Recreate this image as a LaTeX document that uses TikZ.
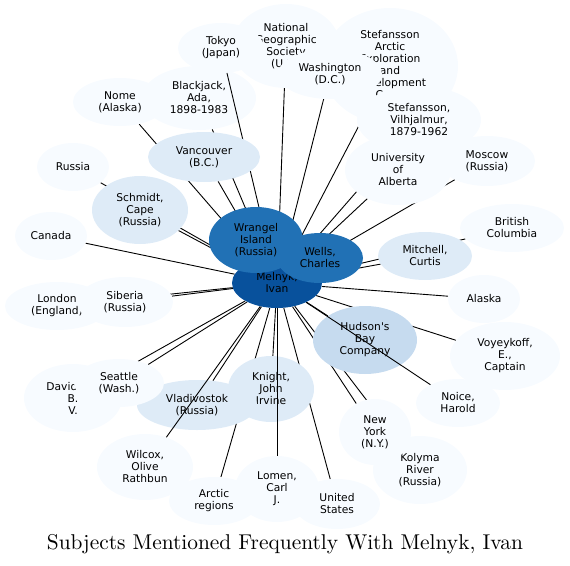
\documentclass[tikz,border=0pt]{standalone}
\usepackage{fontspec}
\newfontfamily\nodefont{DejaVu Sans}
\newfontfamily\titlefont{lmroman10-regular.otf}
\usetikzlibrary{shapes.geometric}
\definecolor{bA}{HTML}{F7FBFF}
\definecolor{bB}{HTML}{DEEBF7}
\definecolor{bC}{HTML}{C6DBEF}
\definecolor{bG}{HTML}{2171B5}
\definecolor{bH}{HTML}{08519C}
\pgfdeclarelayer{edgelayer}
\pgfdeclarelayer{topedge}
\pgfdeclarelayer{upper}
\pgfsetlayers{edgelayer,main,topedge,upper}
\begin{document}
\begin{tikzpicture}[x=1pt,y=-1pt,
  nd/.style={ellipse,inner sep=0pt,align=center,text=black,
    font=\nodefont\fontsize{10.7}{12}\selectfont},
  lv1/.style={nd,fill=bA},
  lv2/.style={nd,fill=bB},
  lv3/.style={nd,fill=bC},
  lv7/.style={nd,fill=bG},
  lv8/.style={nd,fill=bH},
  sz/.style 2 args={minimum width=#1pt,minimum height=#2pt},
  link/.style={draw=black,line width=0.9pt}]
\useasboundingbox (0,0) rectangle (570,565);

% light nodes (main layer), later ones on top
\node[lv1,sz={108}{84}] (natgeo) at (286,46) {National\\Geographic\\Society\\(U.S.)};
\node[lv1,sz={86}{50}] (tokyo) at (221,48) {Tokyo\\(Japan)};
\node[lv1,sz={136}{116}] (stefarctic) at (390,66) {Stefansson\\Arctic\\Exploration\\and\\Development\\Corp.};
\node[lv1,sz={104}{50}] (washington) at (330,74) {Washington\\(D.C.)};
\node[lv1,sz={124}{68}] (vilhjalmur) at (419,120) {Stefansson,\\Vilhjalmur,\\1879-1962};
\node[lv1,sz={106}{70}] (alberta) at (398,170) {University\\of\\Alberta};
\node[lv1,sz={96}{50}] (moscow) at (487,161) {Moscow\\(Russia)};
\node[lv1,sz={104}{48}] (bc) at (512,228) {British\\Columbia};
\node[lv2,sz={94}{48}] (mitchell) at (425,256) {Mitchell,\\Curtis};
\node[lv1,sz={72}{48}] (alaska) at (484,299) {Alaska};
\node[lv1,sz={110}{68}] (voyeykoff) at (505,356) {Voyeykoff,\\E.,\\Captain};
\node[lv3,sz={104}{68}] (hudson) at (365,340) {Hudson's\\Bay\\Company};
\node[lv1,sz={84}{48}] (noice) at (458,403) {Noice,\\Harold};
\node[lv1,sz={94}{68}] (kolyma) at (420,470) {Kolyma\\River\\(Russia)};
\node[lv1,sz={72}{66}] (newyork) at (375,432) {New\\York\\(N.Y.)};
\node[lv1,sz={86}{50}] (unitedstates) at (337,504) {United\\States};
\node[lv1,sz={84}{66}] (lomen) at (277,489) {Lomen,\\Carl\\J.};
\node[lv1,sz={90}{48}] (arctic) at (214,501) {Arctic\\regions};
\node[lv2,sz={86}{66}] (knight) at (271,389) {Knight,\\John\\Irvine};
\node[lv2,sz={120}{50}] (vladivostok) at (197,405) {Vladivostok\\(Russia)};
\node[lv1,sz={96}{66}] (wilcox) at (145,467) {Wilcox,\\Olive\\Rathbun};
\node[lv1,sz={98}{68}] (david) at (73,398) {Davidson,\\B.\\V.};
\node[lv1,sz={90}{48}] (seattle) at (119,383) {Seattle\\(Wash.)};
\node[lv1,sz={104}{48}] (london) at (57,306) {London\\(England)};
\node[lv1,sz={96}{50}] (siberia) at (125,302) {Siberia\\(Russia)};
\node[lv1,sz={72}{48}] (canada) at (51,236) {Canada};
\node[lv1,sz={72}{48}] (russia) at (73,167) {Russia};
\node[lv2,sz={96}{68}] (schmidt) at (140,210) {Schmidt,\\Cape\\(Russia)};
\node[lv1,sz={94}{48}] (nome) at (120,102) {Nome\\(Alaska)};
\node[lv1,sz={114}{64}] (blackjack) at (199,98) {Blackjack,\\Ada,\\1898-1983};

% upper layer nodes
\begin{pgfonlayer}{upper}
\node[lv2,sz={112}{50}] (vancouver) at (204,157) {Vancouver\\(B.C.)};
\node[lv8,sz={90}{50}] (melnyk) at (277,283) {Melnyk,\\Ivan};
\node[lv7,sz={94}{66}] (wrangel) at (256,240) {Wrangel\\Island\\(Russia)};
\node[lv7,sz={86}{50}] (wells) at (320,258) {Wells,\\Charles};
\end{pgfonlayer}

% connectors below the nodes
\begin{pgfonlayer}{edgelayer}
\foreach \n in {natgeo,washington,stefarctic,vilhjalmur,alberta,moscow,bc,
  mitchell,alaska,voyeykoff,hudson,newyork,kolyma,unitedstates,knight,arctic,
  vladivostok,seattle,david,siberia,london,canada,schmidt,russia,nome,
  vancouver,blackjack,wrangel,wells}
  \draw[link] (melnyk) -- (\n);
\end{pgfonlayer}

% connectors drawn over some nodes
\begin{pgfonlayer}{topedge}
\foreach \n in {tokyo,noice,wilcox,lomen}
  \draw[link] (melnyk) -- (\n);
\end{pgfonlayer}

\node[anchor=base] (title) at (285,549) {\titlefont\fontsize{21.4}{24}\selectfont Subjects Mentioned Frequently With Melnyk, Ivan};
\end{tikzpicture}
\end{document}
